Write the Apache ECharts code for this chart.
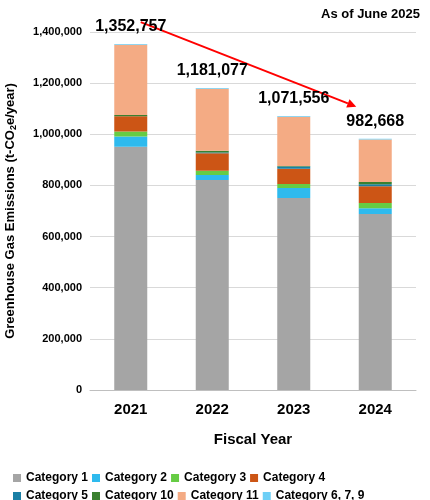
<!DOCTYPE html><html><head><meta charset="utf-8"><script src="https://cdn.jsdelivr.net/npm/echarts@6/dist/echarts.min.js"></script>
<style>html,body{margin:0;padding:0;background:#fff}#c{width:430px;height:500px}</style></head><body><div id="c"></div><script>
const years=['2021','2022','2023','2024'];
const totals=[1352757,1181077,1071556,982668];
const cat1=[951000,821000,751000,688000];
const cat2=[40000,20000,39000,23000];
const cat3=[20000,16000,16000,20000];
const cat4=[60000,69000,59000,66000];
const cat5=[0,3000,9000,8000];
const cat10=[4000,7000,2000,8000];
const cat11=[274757,242077,192556,166668];
const cat679=[3000,3000,3000,3000];
const yTicks=[0,200000,400000,600000,800000,1000000,1200000,1400000];
const names=['Category 1','Category 2','Category 3','Category 4','Category 5','Category 10','Category 11','Category 6, 7, 9'];
const datas=[cat1,cat2,cat3,cat4,cat5,cat10,cat11,cat679];
const colors=['#a5a5a5','#2ebaee','#66cc44','#cc5515','#1a7fa5','#3a8030','#f4ab84','#6dcff6'];
const font='Liberation Sans, Arial, sans-serif';
const chart=echarts.init(document.getElementById('c'));
const series=names.map((n,i)=>({name:n,type:'bar',stack:'t',barWidth:33,data:datas[i],itemStyle:{color:colors[i]},
 label:i===7?{show:true,position:'top',distance:9,fontFamily:font,fontWeight:'bold',fontSize:16,color:'#000',
 formatter:p=>totals[p.dataIndex].toLocaleString('en-US')}:{show:false}}));
const lg=(arr,top)=>({data:arr,left:8,top,orient:'horizontal',itemWidth:8,itemHeight:8,itemGap:4,icon:'rect',
  textStyle:{fontFamily:font,fontWeight:'bold',fontSize:12,color:'#000',width:90,overflow:'truncate'}});
chart.setOption({animation:false,color:colors,
 grid:{left:90,right:14,top:32,bottom:110,outerBoundsMode:'none',containLabel:false},
 xAxis:{type:'category',data:years,name:'Fiscal Year',nameLocation:'middle',nameGap:42,
  nameTextStyle:{fontFamily:font,fontWeight:'bold',fontSize:15,color:'#000'},
  axisLine:{lineStyle:{color:'#bfbfbf'}},axisTick:{show:false},
  axisLabel:{fontFamily:font,fontWeight:'bold',fontSize:15,color:'#000',margin:12}},
 yAxis:{type:'value',min:0,max:1400000,interval:200000,
  name:'{a|Greenhouse Gas Emissions (t-CO}{s|2}{a|e/year)}',nameLocation:'middle',nameGap:72,
  nameTextStyle:{rich:{a:{fontFamily:font,fontWeight:'bold',fontSize:13,color:'#000'},s:{fontFamily:font,fontWeight:'bold',fontSize:9,color:'#000',verticalAlign:'bottom',padding:[6,0,0,0]}}},
  axisLabel:{fontFamily:font,fontWeight:'bold',fontSize:11,color:'#000',formatter:v=>yTicks.includes(v)?v.toLocaleString('en-US'):''},
  splitLine:{lineStyle:{color:'#d9d9d9'}},axisLine:{show:false},axisTick:{show:false}},
 legend:[lg(names.slice(0,4),467),lg(names.slice(4),485)],
 series});
const p0=chart.convertToPixel({xAxisIndex:0,yAxisIndex:0},['2021',totals[0]]);
const p3=chart.convertToPixel({xAxisIndex:0,yAxisIndex:0},['2024',totals[3]]);
const x1=p0[0]+10,y1=p0[1]-22,x2=p3[0]-19,y2=p3[1]-32;
const ang=Math.atan2(y2-y1,x2-x1),L=9,W=4.5;
const hx=x2-L*Math.cos(ang),hy=y2-L*Math.sin(ang);
chart.setOption({graphic:[
 {type:'line',shape:{x1,y1,x2:hx,y2:hy},style:{stroke:'#ff0000',lineWidth:2}},
 {type:'polygon',shape:{points:[[x2,y2],[hx+W*Math.sin(ang),hy-W*Math.cos(ang)],[hx-W*Math.sin(ang),hy+W*Math.cos(ang)]]},style:{fill:'#ff0000'}},
 {type:'text',right:10,top:8,style:{text:'As of June 2025',font:'bold 13px '+font,fill:'#000'}}
]});
</script></body></html>
